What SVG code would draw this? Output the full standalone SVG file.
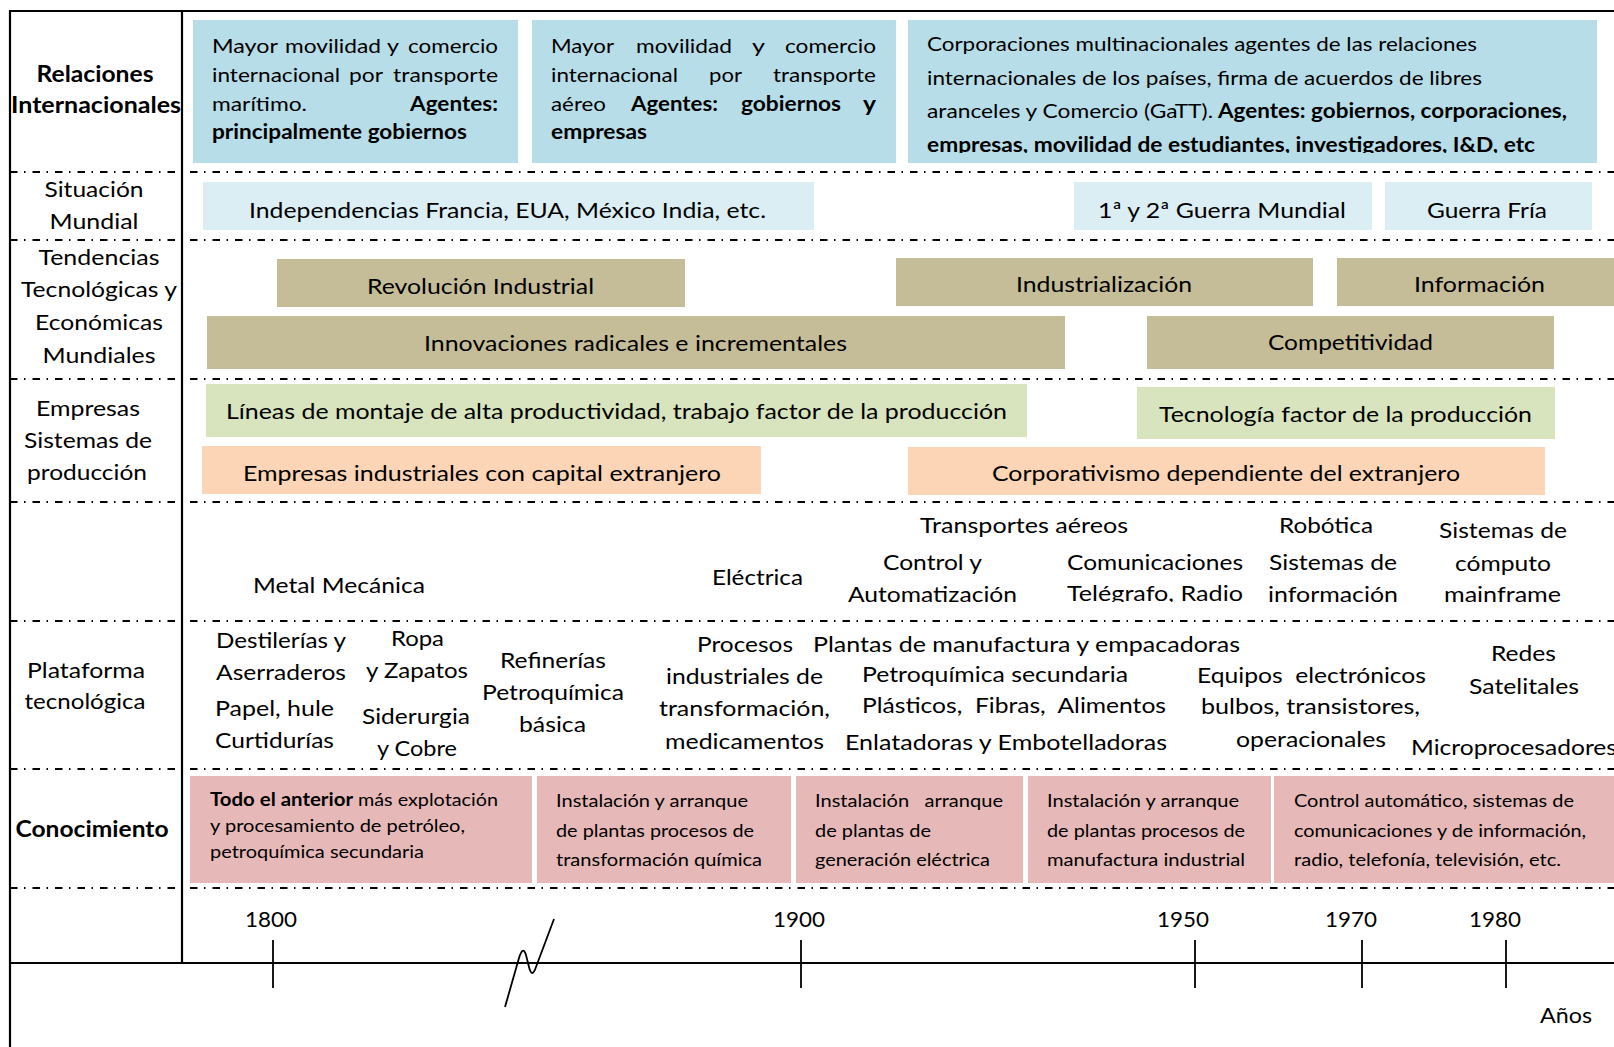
<svg xmlns="http://www.w3.org/2000/svg" width="1614" height="1047" viewBox="0 0 1614 1047">
<style>
text{font-family:Lato,"Liberation Sans",sans-serif;font-size:22px;fill:#000}
.b{font-weight:bold}
.s20{font-size:20px}
.s18{font-size:18px}
.m{text-anchor:middle}
.blue{fill:#B7DDE8}
.lblue{fill:#DAEEF3}
.olive{fill:#C4BD97}
.green{fill:#D7E4BD}
.orange{fill:#FBD5B5}
.pink{fill:#E6B9B8}
.solid{stroke:#000;stroke-width:2.2;fill:none}
.dash{stroke:#000;stroke-width:2;stroke-dasharray:7.5 6.5 1.5 7;fill:none}
.tick{stroke:#000;stroke-width:1.8;fill:none}
</style>
<defs>
<clipPath id="clipC"><rect x="908" y="20" width="689" height="133"/></clipPath>
<clipPath id="clipTel"><rect x="1000" y="540" width="300" height="62"/></clipPath>
</defs>
<rect width="1614" height="1047" fill="#fff"/>

<g id="grid">
<line class="solid" x1="9" y1="11" x2="1614" y2="11"/>
<line class="solid" x1="10" y1="10" x2="10" y2="1047"/>
<line class="solid" x1="182" y1="10" x2="182" y2="964"/>
<line class="dash" x1="10" y1="172" x2="1614" y2="172"/>
<line class="dash" x1="10" y1="240" x2="1614" y2="240"/>
<line class="dash" x1="10" y1="379" x2="1614" y2="379"/>
<line class="dash" x1="10" y1="502" x2="1614" y2="502"/>
<line class="dash" x1="10" y1="621" x2="1614" y2="621"/>
<line class="dash" x1="10" y1="769" x2="1614" y2="769"/>
<line class="dash" x1="10" y1="888" x2="1614" y2="888"/>
</g>

<g id="labels">
<text class="b m" x="95" y="82" textLength="117" lengthAdjust="spacingAndGlyphs">Relaciones</text>
<text class="b m" x="96" y="113" textLength="170" lengthAdjust="spacingAndGlyphs">Internacionales</text>
<text class="m" x="94" y="197" textLength="99" lengthAdjust="spacingAndGlyphs">Situación</text>
<text class="m" x="94" y="229" textLength="89" lengthAdjust="spacingAndGlyphs">Mundial</text>
<text class="m" x="99" y="265" textLength="121" lengthAdjust="spacingAndGlyphs">Tendencias</text>
<text class="m" x="99" y="297" textLength="156" lengthAdjust="spacingAndGlyphs">Tecnológicas y</text>
<text class="m" x="99" y="330" textLength="128" lengthAdjust="spacingAndGlyphs">Económicas</text>
<text class="m" x="99" y="363" textLength="113" lengthAdjust="spacingAndGlyphs">Mundiales</text>
<text class="m" x="88" y="416" textLength="104" lengthAdjust="spacingAndGlyphs">Empresas</text>
<text class="m" x="88" y="448" textLength="128" lengthAdjust="spacingAndGlyphs">Sistemas de</text>
<text class="m" x="87" y="480" textLength="120" lengthAdjust="spacingAndGlyphs">producción</text>
<text class="m" x="86" y="678" textLength="118" lengthAdjust="spacingAndGlyphs">Plataforma</text>
<text class="m" x="85" y="709" textLength="121" lengthAdjust="spacingAndGlyphs">tecnológica</text>
<text class="b m" x="92" y="837" textLength="153" lengthAdjust="spacingAndGlyphs">Conocimiento</text>
</g>

<g id="rel-maritimo">
<rect class="blue" x="193" y="20" width="325" height="143"/>
<text class="s20" x="212" y="53" textLength="66" lengthAdjust="spacingAndGlyphs">Mayor</text>
<text class="s20" x="285" y="53" textLength="96" lengthAdjust="spacingAndGlyphs">movilidad</text>
<text class="s20" x="387" y="53" textLength="12" lengthAdjust="spacingAndGlyphs">y</text>
<text class="s20" x="408" y="53" textLength="90" lengthAdjust="spacingAndGlyphs">comercio</text>
<text class="s20" x="212" y="82" textLength="128" lengthAdjust="spacingAndGlyphs">internacional</text>
<text class="s20" x="349" y="82" textLength="34" lengthAdjust="spacingAndGlyphs">por</text>
<text class="s20" x="393" y="82" textLength="105" lengthAdjust="spacingAndGlyphs">transporte</text>
<text class="s20" x="212" y="111" textLength="95" lengthAdjust="spacingAndGlyphs">marítimo.</text>
<text class="s20 b" x="410" y="111" textLength="88" lengthAdjust="spacingAndGlyphs">Agentes:</text>
<text class="s20 b" x="212" y="139" textLength="255" lengthAdjust="spacingAndGlyphs">principalmente gobiernos</text>
</g>

<g id="rel-aereo">
<rect class="blue" x="532" y="20" width="364" height="143"/>
<text class="s20" x="551" y="53" textLength="63" lengthAdjust="spacingAndGlyphs">Mayor</text>
<text class="s20" x="636" y="53" textLength="96" lengthAdjust="spacingAndGlyphs">movilidad</text>
<text class="s20" x="752" y="53" textLength="13" lengthAdjust="spacingAndGlyphs">y</text>
<text class="s20" x="785" y="53" textLength="91" lengthAdjust="spacingAndGlyphs">comercio</text>
<text class="s20" x="551" y="82" textLength="127" lengthAdjust="spacingAndGlyphs">internacional</text>
<text class="s20" x="709" y="82" textLength="33" lengthAdjust="spacingAndGlyphs">por</text>
<text class="s20" x="773" y="82" textLength="103" lengthAdjust="spacingAndGlyphs">transporte</text>
<text class="s20" x="551" y="111" textLength="55" lengthAdjust="spacingAndGlyphs">aéreo</text>
<text class="s20 b" x="631" y="111" textLength="87" lengthAdjust="spacingAndGlyphs">Agentes:</text>
<text class="s20 b" x="741" y="111" textLength="100" lengthAdjust="spacingAndGlyphs">gobiernos</text>
<text class="s20 b" x="863" y="111" textLength="13" lengthAdjust="spacingAndGlyphs">y</text>
<text class="s20 b" x="551" y="139" textLength="96" lengthAdjust="spacingAndGlyphs">empresas</text>
</g>

<g id="rel-corporaciones">
<rect class="blue" x="908" y="20" width="689" height="143"/>
<g clip-path="url(#clipC)">
<text class="s20" x="927" y="51" textLength="550" lengthAdjust="spacingAndGlyphs">Corporaciones multinacionales agentes de las relaciones</text>
<text class="s20" x="927" y="85" textLength="555" lengthAdjust="spacingAndGlyphs">internacionales de los países, firma de acuerdos de libres</text>
<text class="s20" x="927" y="118" textLength="286" lengthAdjust="spacingAndGlyphs">aranceles y Comercio (GaTT).</text>
<text class="s20 b" x="1218" y="118" textLength="349" lengthAdjust="spacingAndGlyphs">Agentes: gobiernos, corporaciones,</text>
<text class="s20 b" x="927" y="152" textLength="608" lengthAdjust="spacingAndGlyphs">empresas, movilidad de estudiantes, investigadores, I&amp;D, etc</text>
</g>
</g>

<g id="sit-independencias">
<rect class="lblue" x="203" y="182" width="611" height="48"/>
<text x="249" y="218" textLength="517" lengthAdjust="spacingAndGlyphs">Independencias Francia, EUA, México India, etc.</text>
</g>
<g id="sit-guerras">
<rect class="lblue" x="1074" y="182" width="298" height="48"/>
<text x="1098" y="218" textLength="248" lengthAdjust="spacingAndGlyphs">1ª y 2ª Guerra Mundial</text>
</g>
<g id="sit-guerra-fria">
<rect class="lblue" x="1385" y="182" width="207" height="48"/>
<text x="1427" y="218" textLength="120" lengthAdjust="spacingAndGlyphs">Guerra Fría</text>
</g>

<g id="ten-revolucion">
<rect class="olive" x="277" y="259" width="408" height="48"/>
<text x="367" y="294" textLength="227" lengthAdjust="spacingAndGlyphs">Revolución Industrial</text>
</g>
<g id="ten-industrializacion">
<rect class="olive" x="896" y="258" width="417" height="48"/>
<text x="1016" y="292" textLength="176" lengthAdjust="spacingAndGlyphs">Industrialización</text>
</g>
<g id="ten-informacion">
<rect class="olive" x="1337" y="258" width="277" height="48"/>
<text x="1414" y="292" textLength="131" lengthAdjust="spacingAndGlyphs">Información</text>
</g>
<g id="ten-innovaciones">
<rect class="olive" x="207" y="316" width="858" height="53"/>
<text x="424" y="351" textLength="423" lengthAdjust="spacingAndGlyphs">Innovaciones radicales e incrementales</text>
</g>
<g id="ten-competitividad">
<rect class="olive" x="1147" y="316" width="407" height="53"/>
<text x="1268" y="350" textLength="165" lengthAdjust="spacingAndGlyphs">Competitividad</text>
</g>

<g id="emp-lineas">
<rect class="green" x="206" y="384" width="821" height="53"/>
<text x="226" y="419" textLength="781" lengthAdjust="spacingAndGlyphs">Líneas de montaje de alta productividad, trabajo factor de la producción</text>
</g>
<g id="emp-tecnologia">
<rect class="green" x="1137" y="387" width="418" height="52"/>
<text x="1159" y="422" textLength="373" lengthAdjust="spacingAndGlyphs">Tecnología factor de la producción</text>
</g>
<g id="emp-capital">
<rect class="orange" x="202" y="446" width="559" height="48"/>
<text x="243" y="481" textLength="478" lengthAdjust="spacingAndGlyphs">Empresas industriales con capital extranjero</text>
</g>
<g id="emp-corporativismo">
<rect class="orange" x="908" y="447" width="637" height="48"/>
<text x="992" y="481" textLength="468" lengthAdjust="spacingAndGlyphs">Corporativismo dependiente del extranjero</text>
</g>

<g id="ramas">
<text x="253" y="593" textLength="172" lengthAdjust="spacingAndGlyphs">Metal Mecánica</text>
<text x="712" y="585" textLength="91" lengthAdjust="spacingAndGlyphs">Eléctrica</text>
<text x="920" y="533" textLength="208" lengthAdjust="spacingAndGlyphs">Transportes aéreos</text>
<text x="883" y="570" textLength="99" lengthAdjust="spacingAndGlyphs">Control y</text>
<text x="848" y="602" textLength="169" lengthAdjust="spacingAndGlyphs">Automatización</text>
<text x="1067" y="570" textLength="176" lengthAdjust="spacingAndGlyphs">Comunicaciones</text>
<text x="1067" y="601" textLength="176" lengthAdjust="spacingAndGlyphs" clip-path="url(#clipTel)">Telégrafo, Radio</text>
<text x="1279" y="533" textLength="94" lengthAdjust="spacingAndGlyphs">Robótica</text>
<text x="1269" y="570" textLength="128" lengthAdjust="spacingAndGlyphs">Sistemas de</text>
<text x="1268" y="602" textLength="130" lengthAdjust="spacingAndGlyphs">información</text>
<text x="1439" y="538" textLength="128" lengthAdjust="spacingAndGlyphs">Sistemas de</text>
<text x="1455" y="571" textLength="96" lengthAdjust="spacingAndGlyphs">cómputo</text>
<text x="1444" y="602" textLength="117" lengthAdjust="spacingAndGlyphs">mainframe</text>
</g>

<g id="plataforma">
<text x="216" y="648" textLength="130" lengthAdjust="spacingAndGlyphs">Destilerías y</text>
<text x="216" y="680" textLength="130" lengthAdjust="spacingAndGlyphs">Aserraderos</text>
<text x="215" y="716" textLength="119" lengthAdjust="spacingAndGlyphs">Papel, hule</text>
<text x="215" y="748" textLength="119" lengthAdjust="spacingAndGlyphs">Curtidurías</text>
<text x="391" y="646" textLength="53" lengthAdjust="spacingAndGlyphs">Ropa</text>
<text x="366" y="678" textLength="102" lengthAdjust="spacingAndGlyphs">y Zapatos</text>
<text x="362" y="724" textLength="108" lengthAdjust="spacingAndGlyphs">Siderurgia</text>
<text x="377" y="756" textLength="80" lengthAdjust="spacingAndGlyphs">y Cobre</text>
<text x="500" y="668" textLength="106" lengthAdjust="spacingAndGlyphs">Refinerías</text>
<text x="482" y="700" textLength="142" lengthAdjust="spacingAndGlyphs">Petroquímica</text>
<text x="519" y="732" textLength="67" lengthAdjust="spacingAndGlyphs">básica</text>
<text x="697" y="652" textLength="96" lengthAdjust="spacingAndGlyphs">Procesos</text>
<text x="666" y="684" textLength="157" lengthAdjust="spacingAndGlyphs">industriales de</text>
<text x="659" y="716" textLength="171" lengthAdjust="spacingAndGlyphs">transformación,</text>
<text x="665" y="749" textLength="159" lengthAdjust="spacingAndGlyphs">medicamentos</text>
<text x="813" y="652" textLength="427" lengthAdjust="spacingAndGlyphs">Plantas de manufactura y empacadoras</text>
<text x="862" y="682" textLength="266" lengthAdjust="spacingAndGlyphs">Petroquímica secundaria</text>
<text x="862" y="713" textLength="304" lengthAdjust="spacingAndGlyphs" xml:space="preserve">Plásticos,  Fibras,  Alimentos</text>
<text x="845" y="750" textLength="322" lengthAdjust="spacingAndGlyphs">Enlatadoras y Embotelladoras</text>
<text x="1197" y="683" textLength="229" lengthAdjust="spacingAndGlyphs" xml:space="preserve">Equipos  electrónicos</text>
<text x="1201" y="714" textLength="219" lengthAdjust="spacingAndGlyphs">bulbos, transistores,</text>
<text x="1236" y="747" textLength="150" lengthAdjust="spacingAndGlyphs">operacionales</text>
<text x="1491" y="661" textLength="65" lengthAdjust="spacingAndGlyphs">Redes</text>
<text x="1469" y="694" textLength="110" lengthAdjust="spacingAndGlyphs">Satelitales</text>
<text x="1411" y="755" textLength="206" lengthAdjust="spacingAndGlyphs">Microprocesadores</text>
</g>

<g id="con-petroleo">
<rect class="pink" x="190" y="776" width="342" height="107"/>
<text class="s18 b" x="210" y="806" textLength="143" lengthAdjust="spacingAndGlyphs">Todo el anterior</text>
<text class="s18" x="358" y="806" textLength="140" lengthAdjust="spacingAndGlyphs">más explotación</text>
<text class="s18" x="210" y="832" textLength="255" lengthAdjust="spacingAndGlyphs">y procesamiento de petróleo,</text>
<text class="s18" x="210" y="858" textLength="214" lengthAdjust="spacingAndGlyphs">petroquímica secundaria</text>
</g>
<g id="con-quimica">
<rect class="pink" x="537" y="776" width="254" height="107"/>
<text class="s18" x="556" y="807" textLength="192" lengthAdjust="spacingAndGlyphs">Instalación y arranque</text>
<text class="s18" x="556" y="837" textLength="198" lengthAdjust="spacingAndGlyphs">de plantas procesos de</text>
<text class="s18" x="556" y="866" textLength="206" lengthAdjust="spacingAndGlyphs">transformación química</text>
</g>
<g id="con-electrica">
<rect class="pink" x="796" y="776" width="227" height="107"/>
<text class="s18" x="815" y="807" textLength="188" lengthAdjust="spacingAndGlyphs" xml:space="preserve">Instalación   arranque</text>
<text class="s18" x="815" y="837" textLength="116" lengthAdjust="spacingAndGlyphs">de plantas de</text>
<text class="s18" x="815" y="866" textLength="175" lengthAdjust="spacingAndGlyphs">generación eléctrica</text>
</g>
<g id="con-manufactura">
<rect class="pink" x="1028" y="776" width="243" height="107"/>
<text class="s18" x="1047" y="807" textLength="192" lengthAdjust="spacingAndGlyphs">Instalación y arranque</text>
<text class="s18" x="1047" y="837" textLength="198" lengthAdjust="spacingAndGlyphs">de plantas procesos de</text>
<text class="s18" x="1047" y="866" textLength="198" lengthAdjust="spacingAndGlyphs">manufactura industrial</text>
</g>
<g id="con-control">
<rect class="pink" x="1274" y="776" width="340" height="107"/>
<text class="s18" x="1294" y="807" textLength="280" lengthAdjust="spacingAndGlyphs">Control automático, sistemas de</text>
<text class="s18" x="1294" y="837" textLength="292" lengthAdjust="spacingAndGlyphs">comunicaciones y de información,</text>
<text class="s18" x="1294" y="866" textLength="267" lengthAdjust="spacingAndGlyphs">radio, telefonía, televisión, etc.</text>
</g>

<g id="axis">
<line class="solid" x1="10" y1="963" x2="1614" y2="963"/>
<line class="tick" x1="273" y1="940" x2="273" y2="988"/>
<line class="tick" x1="801" y1="940" x2="801" y2="988"/>
<line class="tick" x1="1195" y1="940" x2="1195" y2="988"/>
<line class="tick" x1="1362" y1="940" x2="1362" y2="988"/>
<line class="tick" x1="1506" y1="940" x2="1506" y2="988"/>
<path class="tick" d="M505,1007 L519,958 Q523,945 526,955 L529,967 Q532,979 536,967 L554,919"/>
<text x="245" y="927" textLength="52" lengthAdjust="spacingAndGlyphs">1800</text>
<text x="773" y="927" textLength="52" lengthAdjust="spacingAndGlyphs">1900</text>
<text x="1157" y="927" textLength="52" lengthAdjust="spacingAndGlyphs">1950</text>
<text x="1325" y="927" textLength="52" lengthAdjust="spacingAndGlyphs">1970</text>
<text x="1469" y="927" textLength="52" lengthAdjust="spacingAndGlyphs">1980</text>
<text x="1540" y="1023" textLength="52" lengthAdjust="spacingAndGlyphs">Años</text>
</g>
</svg>
